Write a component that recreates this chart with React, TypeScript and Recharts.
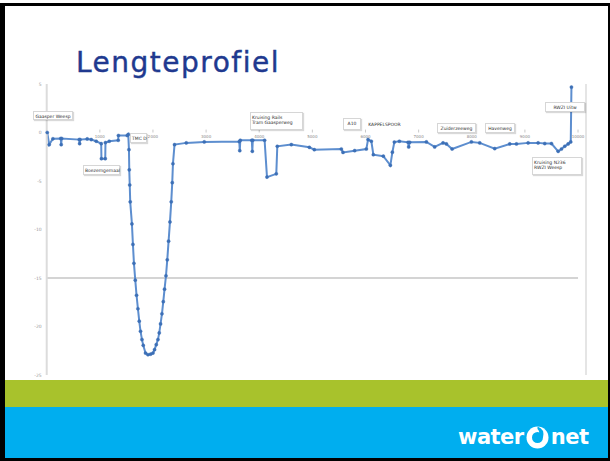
import React from 'react'
import {
  LineChart,
  Line,
  XAxis,
  YAxis,
  ReferenceLine,
} from 'recharts'

// afstand (m) en hoogte (m) langs het tracé
const distances = [
  10, 47, 117, 264, 273, 282, 612, 620, 628, 763, 838, 932, 1026, 1030, 1102, 1106,
  1177, 1346, 1350, 1516, 1535, 1548, 1554, 1563, 1572, 1604, 1623, 1642, 1667, 1691,
  1717, 1742, 1766, 1793, 1817, 1860, 1906, 1955, 2000, 2030, 2062, 2094, 2118, 2143,
  2169, 2194, 2218, 2245, 2269, 2294, 2320, 2344, 2363, 2376, 2406, 2627, 2966, 3625,
  3634, 3644, 3860, 3870, 3879, 4101, 4146, 4321, 4340, 4604, 4943, 5037, 5545, 5577,
  5796, 6016, 6048, 6110, 6148, 6336, 6468, 6506, 6543, 6638, 6801, 6813, 6832, 7146,
  7302, 7460, 7523, 7630, 7993, 8150, 8432, 8715, 8841, 9061, 9249, 9374, 9500, 9626,
  9688, 9750, 9814, 9863, 9876,
]
const heights = [
  0, -1.25, -0.65, -0.62, -1.25, -0.62, -0.73, -1.15, -0.73, -0.66, -0.73, -0.9, -1.15, -2.7, -2.7, -1.04,
  -0.9, -0.8, -0.31, -0.31, -0.2, -1.77, -3.85, -5.41, -7.15, -9.43, -11.54, -13.49, -15.22, -16.78,
  -18.17, -19.45, -20.49, -21.35, -21.94, -22.74, -22.91, -22.85, -22.74, -22.39, -21.87, -21.35, -20.66, -19.73,
  -18.69, -17.44, -16.15, -14.77, -13.13, -11.2, -9.22, -7.15, -5.17, -3.22, -1.25, -1.07, -0.97, -0.94,
  -1.87, -0.8, -0.8, -1.94, -0.8, -0.8, -4.6, -4.26, -1.42, -1.25, -1.53, -1.77, -1.7, -2.05,
  -1.87, -1.7, -0.73, -0.9, -2.29, -2.44, -3.38, -2.03, -0.99, -0.9, -1.01, -1.49, -1.01, -0.97,
  -1.49, -1.07, -1.18, -1.7, -0.97, -1.07, -1.66, -1.18, -1.18, -1.07, -1.07, -1.14, -1.14, -1.94,
  -1.7, -1.42, -1.18, -0.97, 4.68,
]
const xTicks = [1000, 2000, 3000, 4000, 5000, 6000, 7000, 8000, 9000, 10000]
const yTicks = [5, 0, -5, -10, -15, -20, -25]
const rightTicks = [5, 4, 3, 2, 1, 0, -1, -2, -3, -4, -5, -6, -7, -8, -9, -10, -11, -12, -13, -14, -15, -16, -17, -18, -19, -20, -21, -22, -23, -24, -25]

const data = distances.map((x, i) => ({ x, h: heights[i] }))

// kaders met plaatsnamen (positie in px op de dia)
const labels = [
  { lines: ['Gaasper Weesp'], left: 33, top: 111, width: 40, height: 9 },
  { lines: ['Boezemgemaal'], left: 83, top: 165, width: 37, height: 10 },
  { lines: ['TMC D'], left: 130, top: 133, width: 17, height: 10 },
  { lines: ['Kruising Rails', 'Tram Gaasperweg'], left: 250, top: 112, width: 53, height: 18 },
  { lines: ['A10'], left: 343, top: 118, width: 18, height: 12 },
  { lines: ['KAPPELSPOOR'], left: 366, top: 120, width: 37, height: 9, noBorder: true },
  { lines: ['Zuiderzeeweg'], left: 437, top: 123, width: 39, height: 10 },
  { lines: ['Havenweg'], left: 485, top: 123, width: 30, height: 10 },
  { lines: ['Kruising N236', 'RWZI Weesp'], left: 532, top: 157, width: 50, height: 18 },
  { lines: ['RWZI Uitw'], left: 545, top: 102, width: 40, height: 10 },
]

const Logo = () => (
  <div style={{ position: 'absolute', left: 458, top: 424, height: 26, display: 'flex', alignItems: 'center' }}>
    <span style={{ color: '#fff', fontWeight: 900, fontSize: 21, fontFamily: 'DejaVu Sans', letterSpacing: -0.5 }}>water</span>
    <svg width={25} height={25} viewBox="0 0 25 25" style={{ margin: '0 1px' }}>
      <circle cx={12.5} cy={12.5} r={11} fill="#fff" />
      <circle cx={12.5} cy={12.5} r={5.5} fill="#00aeef" />
      <path d="M 12.5 1.5 Q 20 4 18 12.5 L 14 11 Q 15 6 12.5 4 Z" fill="#00aeef" />
    </svg>
    <span style={{ color: '#fff', fontWeight: 900, fontSize: 21, fontFamily: 'DejaVu Sans', letterSpacing: -0.5 }}>net</span>
  </div>
)

export default function App() {
  return (
    <div style={{ position: 'absolute', left: 0, top: 0, width: 610, height: 461, background: '#fff', overflow: 'hidden', fontFamily: 'DejaVu Sans' }}>
      <div style={{ position: 'absolute', left: 0, top: 3, width: 610, height: 458, boxSizing: 'border-box', borderTop: '3px solid #000', borderLeft: '5px solid #000', borderBottom: '3px solid #000', borderRight: '2px solid #000' }} />
      <div style={{ position: 'absolute', left: 5, top: 380, width: 603, height: 27, background: '#a8c22c' }} />
      <div style={{ position: 'absolute', left: 5, top: 407, width: 603, height: 51, background: '#00aeef' }} />
      <Logo />
      <div style={{ position: 'absolute', left: 76, top: 46, fontSize: 28, color: '#20398f', letterSpacing: 1.5, whiteSpace: 'nowrap', WebkitTextStroke: '0.4px #20398f' }}>
        Lengteprofiel
      </div>

      <div style={{ position: 'absolute', left: 0, top: 0 }}>
        <LineChart width={610} height={461} data={data} margin={{ top: 84, right: 23, bottom: 86, left: 0 }}>
          <XAxis type="number" dataKey="x" domain={[0, 10150]} ticks={xTicks} hide />
          <YAxis
            yAxisId="left"
            domain={[-25, 5]}
            ticks={yTicks}
            width={46.7}
            tickSize={0}
            tickMargin={5}
            tick={{ fontSize: 4.5, fill: '#999' }}
            axisLine={{ stroke: '#dcdcdc', strokeWidth: 2 }}
          />
          <YAxis
            yAxisId="right"
            orientation="right"
            domain={[-25, 5]}
            ticks={rightTicks}
            width={1}
            tickSize={3}
            tick={() => <g />}
            tickLine={{ stroke: '#e0e0e0' }}
            axisLine={{ stroke: '#dcdcdc', strokeWidth: 1.5 }}
          />
          <ReferenceLine
            yAxisId="left"
            segment={[{ x: 0, y: -15 }, { x: 10000, y: -15 }]}
            stroke="#d4d4d4"
            strokeWidth={2}
          />
          {xTicks.map((t) => (
            <ReferenceLine
              key={t}
              yAxisId="left"
              segment={[{ x: t, y: 0 }, { x: t, y: 0.3 }]}
              stroke="#bbb"
              strokeWidth={0.8}
              label={{ value: String(t), position: 'bottom', fontSize: 4, fill: '#888', offset: 3 }}
            />
          ))}
          <Line
            yAxisId="left"
            type="linear"
            dataKey="h"
            stroke="#5d8ecf"
            strokeWidth={2}
            dot={{ r: 1.6, fill: '#3c6fb6', stroke: '#3c6fb6', strokeWidth: 0.4 }}
            isAnimationActive={false}
          />
        </LineChart>
      </div>

      {labels.map((l, i) => (
        <div
          key={i}
          style={{
            position: 'absolute',
            left: l.left,
            top: l.top,
            width: l.width,
            height: l.height,
            boxSizing: 'border-box',
            background: '#fff',
            border: l.noBorder ? 'none' : '1px solid #d6d6d6',
            boxShadow: l.noBorder ? 'none' : '1px 1px 1px rgba(0,0,0,0.15)',
            fontSize: 4.5,
            lineHeight: '5.5px',
            color: '#333',
            padding: '1.5px 1px',
            whiteSpace: 'nowrap',
            textAlign: l.lines.length > 1 ? 'left' : 'center',
          }}
        >
          {l.lines.map((s, j) => (
            <div key={j}>{s}</div>
          ))}
        </div>
      ))}
    </div>
  )
}
